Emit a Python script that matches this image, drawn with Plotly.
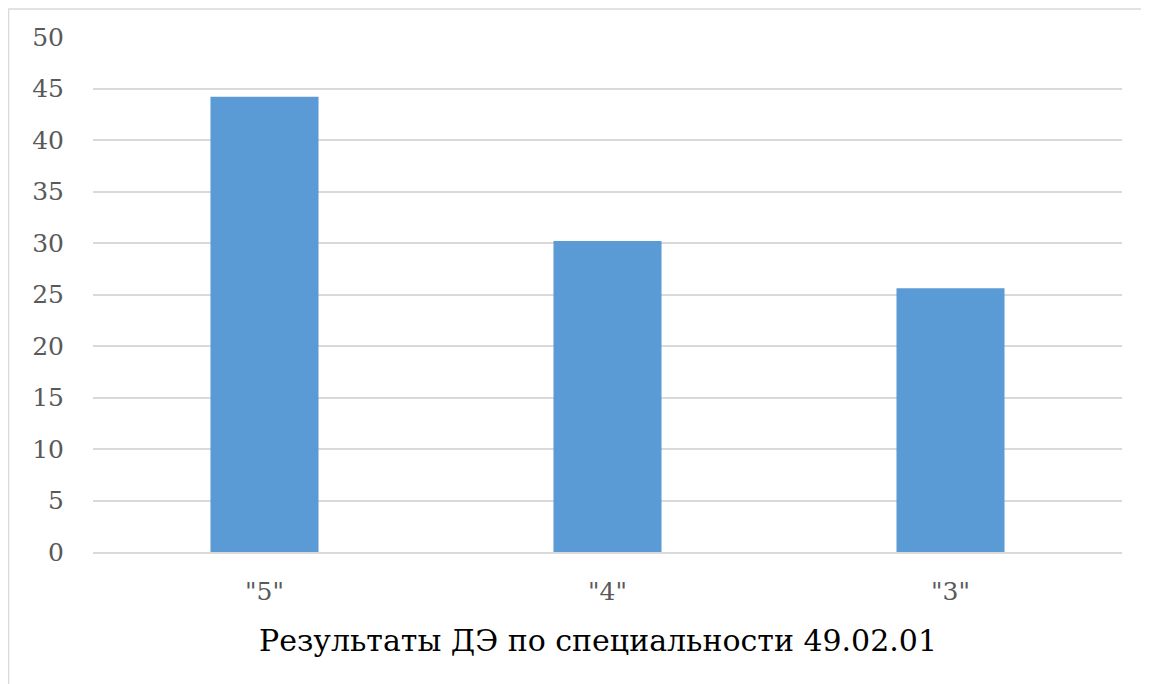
import plotly.graph_objects as go

categories = ['"5"', '"4"', '"3"']
values = [44.2, 30.2, 25.6]
y_ticks = [0, 5, 10, 15, 20, 25, 30, 35, 40, 45, 50]
title_text = "Результаты ДЭ по специальности 49.02.01"

OFF = 8  # page body offset
W, H = 1149 - OFF, 684 - OFF
L, R, T, B = 93 - OFF, 27, 37 - OFF, 132
pw, ph = W - L - R, H - T - B
FONT = "DejaVu Serif"

def px(x):
    return (x - OFF - L) / pw

def py(y):
    return (H - B - (y - OFF)) / ph

fig = go.Figure(go.Bar(
    x=categories, y=values,
    marker=dict(color="#5b9bd5", line=dict(width=0)),
    width=0.315,
))

fig.update_layout(
    width=W, height=H,
    margin=dict(l=L, r=R, t=T, b=B),
    plot_bgcolor="white", paper_bgcolor="white",
    showlegend=False,
    font=dict(family=FONT, color="#595959", size=25),
    xaxis=dict(showgrid=False, showline=True, linecolor="#d9d9d9", linewidth=1.5,
               ticks="", tickfont=dict(family=FONT, size=25, color="#595959"),
               ticklabelstandoff=16),
    yaxis=dict(range=[0, 50], tickvals=y_ticks, showgrid=True, gridcolor="#d9d9d9",
               gridwidth=1.5, zeroline=False, showline=False, ticks="",
               tickfont=dict(family=FONT, size=25, color="#595959"),
               ticklabelstandoff=28),
    annotations=[dict(text=title_text, xref="paper", yref="paper",
                      x=px(598), y=py(640), showarrow=False,
                      font=dict(size=30, color="black", family=FONT),
                      xanchor="center", yanchor="middle")],
    shapes=[dict(type="rect", xref="paper", yref="paper",
                 x0=px(8.5), x1=px(1146), y0=py(700), y1=py(9),
                 line=dict(color="#d9d9d9", width=1.5), layer="below")],
)

fig.write_html("out.html")
